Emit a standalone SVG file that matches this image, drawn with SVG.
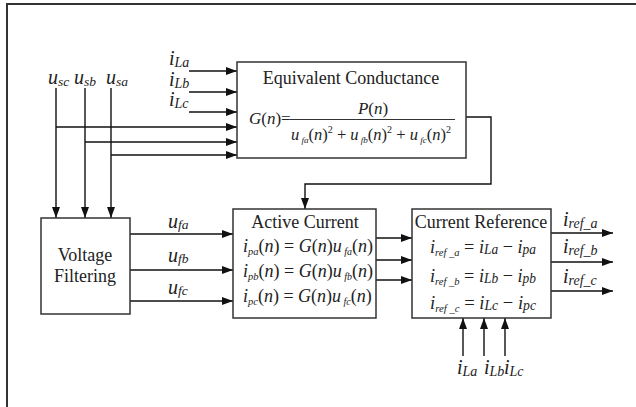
<svg xmlns="http://www.w3.org/2000/svg" width="636" height="407" viewBox="0 0 636 407">
  <style>
    text { font-family: "Times New Roman", "Liberation Serif", Tinos, "Noto Serif", "DejaVu Serif", serif; fill: #222; }
    .ttl { text-anchor: middle; }
    .i { font-style: italic; }
    .s { font-style: italic; }
    .box { fill: #fff; stroke: #333; stroke-width: 1.5; }
    .a { fill: none; stroke: #111; stroke-width: 1.4; marker-end: url(#arr); }
  </style>
  <defs>
    <marker id="arr" markerUnits="userSpaceOnUse" markerWidth="12" markerHeight="8" refX="11" refY="4" orient="auto">
      <path d="M0,0 L11,4 L0,8 z" fill="#111"/>
    </marker>
  </defs>

  <rect width="636" height="407" fill="#fff"/>
  <!-- frame -->
  <rect x="7" y="4" width="640" height="420" fill="none" stroke="#333" stroke-width="2"/>

  <g id="connectors">
    <!-- load currents into conductance block -->
    <line class="a" x1="189" y1="71" x2="237" y2="71"/>
    <line class="a" x1="189" y1="92" x2="237" y2="92"/>
    <line class="a" x1="189" y1="112" x2="237" y2="112"/>
    <!-- source voltages -->
    <line class="a" x1="56" y1="88" x2="56" y2="218"/>
    <line class="a" x1="85" y1="88" x2="85" y2="218"/>
    <line class="a" x1="111" y1="88" x2="111" y2="218"/>
    <line class="a" x1="56" y1="127" x2="237" y2="127"/>
    <line class="a" x1="85" y1="142" x2="237" y2="142"/>
    <line class="a" x1="111" y1="155" x2="237" y2="155"/>
    <!-- conductance feedback -->
    <polyline class="a" points="466,117 491,117 491,184 305,184 305,209"/>
    <!-- filtered voltages -->
    <line class="a" x1="130" y1="234" x2="233" y2="234"/>
    <line class="a" x1="130" y1="270" x2="233" y2="270"/>
    <line class="a" x1="130" y1="301" x2="233" y2="301"/>
    <!-- active currents -->
    <line class="a" x1="376" y1="238" x2="412" y2="238"/>
    <line class="a" x1="376" y1="260" x2="412" y2="260"/>
    <line class="a" x1="376" y1="280" x2="412" y2="280"/>
    <!-- reference outputs -->
    <line class="a" x1="551" y1="233" x2="613" y2="233"/>
    <line class="a" x1="551" y1="262" x2="613" y2="262"/>
    <line class="a" x1="551" y1="291" x2="613" y2="291"/>
    <!-- load currents into reference block -->
    <line class="a" x1="463" y1="356" x2="463" y2="318"/>
    <line class="a" x1="484" y1="356" x2="484" y2="318"/>
    <line class="a" x1="505" y1="356" x2="505" y2="318"/>
  </g>

  <!-- signal labels -->
  <g id="labels">
    <text x="48" y="84" font-size="20"><tspan class="i">u</tspan><tspan class="s" font-size="13.5" dy="2">sc</tspan></text>
    <text x="74" y="84" font-size="20"><tspan class="i">u</tspan><tspan class="s" font-size="13.5" dy="2">sb</tspan></text>
    <text x="106" y="84" font-size="20"><tspan class="i">u</tspan><tspan class="s" font-size="13.5" dy="2">sa</tspan></text>
    <text x="169" y="65" font-size="20"><tspan class="i">i</tspan><tspan class="s" font-size="14" dy="2">La</tspan></text>
    <text x="169" y="86" font-size="20"><tspan class="i">i</tspan><tspan class="s" font-size="14" dy="2">Lb</tspan></text>
    <text x="169" y="106" font-size="20"><tspan class="i">i</tspan><tspan class="s" font-size="14" dy="2">Lc</tspan></text>
    <text x="168" y="228" font-size="20"><tspan class="i">u</tspan><tspan class="s" font-size="13.5" dy="1">fa</tspan></text>
    <text x="168" y="262" font-size="20"><tspan class="i">u</tspan><tspan class="s" font-size="13.5" dy="1">fb</tspan></text>
    <text x="168" y="294" font-size="20"><tspan class="i">u</tspan><tspan class="s" font-size="13.5" dy="1">fc</tspan></text>
    <text x="563" y="226" font-size="20"><tspan class="i">i</tspan><tspan class="s" font-size="14" dy="2">ref_a</tspan></text>
    <text x="563" y="253" font-size="20"><tspan class="i">i</tspan><tspan class="s" font-size="14" dy="2">ref_b</tspan></text>
    <text x="563" y="283" font-size="20"><tspan class="i">i</tspan><tspan class="s" font-size="14" dy="2">ref_c</tspan></text>
    <text x="457" y="374" font-size="20"><tspan class="i">i</tspan><tspan class="s" font-size="14" dy="2">La</tspan></text>
    <text x="484" y="374" font-size="20"><tspan class="i">i</tspan><tspan class="s" font-size="14" dy="2">Lb</tspan></text>
    <text x="504" y="374" font-size="20"><tspan class="i">i</tspan><tspan class="s" font-size="14" dy="2">Lc</tspan></text>
  </g>

  <g id="equivalent-conductance">
    <rect class="box" x="237" y="62" width="229" height="96"/>
    <text class="ttl" x="351" y="84" font-size="18">Equivalent Conductance</text>
    <text x="249" y="124" font-size="17"><tspan class="i">G</tspan>(<tspan class="i">n</tspan>)=</text>
    <line x1="290" y1="119.5" x2="455" y2="119.5" stroke="#333" stroke-width="1"/>
    <text x="373" y="114" font-size="17" text-anchor="middle"><tspan class="i">P</tspan>(<tspan class="i">n</tspan>)</text>
    <text x="291" y="140" font-size="16.5"><tspan class="i">u</tspan><tspan class="s" font-size="9" dy="3"> fa</tspan><tspan dy="-3">(</tspan><tspan class="i">n</tspan>)<tspan font-size="10" dy="-7">2</tspan><tspan dy="7"> + </tspan><tspan class="i">u</tspan><tspan class="s" font-size="9" dy="3"> fb</tspan><tspan dy="-3">(</tspan><tspan class="i">n</tspan>)<tspan font-size="10" dy="-7">2</tspan><tspan dy="7"> + </tspan><tspan class="i">u</tspan><tspan class="s" font-size="9" dy="3"> fc</tspan><tspan dy="-3">(</tspan><tspan class="i">n</tspan>)<tspan font-size="10" dy="-7">2</tspan></text>
  </g>

  <g id="voltage-filtering">
    <rect class="box" x="41" y="218" width="89" height="96"/>
    <text class="ttl" x="85" y="261" font-size="18">Voltage</text>
    <text class="ttl" x="85" y="282" font-size="18">Filtering</text>
  </g>

  <g id="active-current">
    <rect class="box" x="233" y="209" width="143" height="109"/>
    <text class="ttl" x="305" y="228" font-size="18">Active Current</text>
    <text x="243" y="252" font-size="18"><tspan class="i">i</tspan><tspan class="s" font-size="10.5" dy="3">pa</tspan><tspan dy="-3">(</tspan><tspan class="i">n</tspan>) = <tspan class="i">G</tspan>(<tspan class="i">n</tspan>)<tspan class="i">u</tspan><tspan class="s" font-size="10" dy="3"> fa</tspan><tspan dy="-3">(</tspan><tspan class="i">n</tspan>)</text>
    <text x="243" y="277" font-size="18"><tspan class="i">i</tspan><tspan class="s" font-size="10.5" dy="3">pb</tspan><tspan dy="-3">(</tspan><tspan class="i">n</tspan>) = <tspan class="i">G</tspan>(<tspan class="i">n</tspan>)<tspan class="i">u</tspan><tspan class="s" font-size="10" dy="3"> fb</tspan><tspan dy="-3">(</tspan><tspan class="i">n</tspan>)</text>
    <text x="243" y="302" font-size="18"><tspan class="i">i</tspan><tspan class="s" font-size="10.5" dy="3">pc</tspan><tspan dy="-3">(</tspan><tspan class="i">n</tspan>) = <tspan class="i">G</tspan>(<tspan class="i">n</tspan>)<tspan class="i">u</tspan><tspan class="s" font-size="10" dy="3"> fc</tspan><tspan dy="-3">(</tspan><tspan class="i">n</tspan>)</text>
  </g>

  <g id="current-reference">
    <rect class="box" x="412" y="209" width="139" height="109"/>
    <text class="ttl" x="481" y="228" font-size="18">Current Reference</text>
    <text x="430" y="253" font-size="19" textLength="106" lengthAdjust="spacingAndGlyphs"><tspan class="i">i</tspan><tspan class="s" font-size="11" dy="3">ref _a</tspan><tspan dy="-3"> = </tspan><tspan class="i">i</tspan><tspan class="s" font-size="14" dy="1">La</tspan><tspan dy="-1"> − </tspan><tspan class="i">i</tspan><tspan class="s" font-size="14" dy="1">pa</tspan></text>
    <text x="430" y="282" font-size="19" textLength="106" lengthAdjust="spacingAndGlyphs"><tspan class="i">i</tspan><tspan class="s" font-size="11" dy="3">ref _b</tspan><tspan dy="-3"> = </tspan><tspan class="i">i</tspan><tspan class="s" font-size="14" dy="1">Lb</tspan><tspan dy="-1"> − </tspan><tspan class="i">i</tspan><tspan class="s" font-size="14" dy="1">pb</tspan></text>
    <text x="430" y="309" font-size="19" textLength="106" lengthAdjust="spacingAndGlyphs"><tspan class="i">i</tspan><tspan class="s" font-size="11" dy="3">ref _c</tspan><tspan dy="-3"> = </tspan><tspan class="i">i</tspan><tspan class="s" font-size="14" dy="1">Lc</tspan><tspan dy="-1"> − </tspan><tspan class="i">i</tspan><tspan class="s" font-size="14" dy="1">pc</tspan></text>
  </g>
</svg>
